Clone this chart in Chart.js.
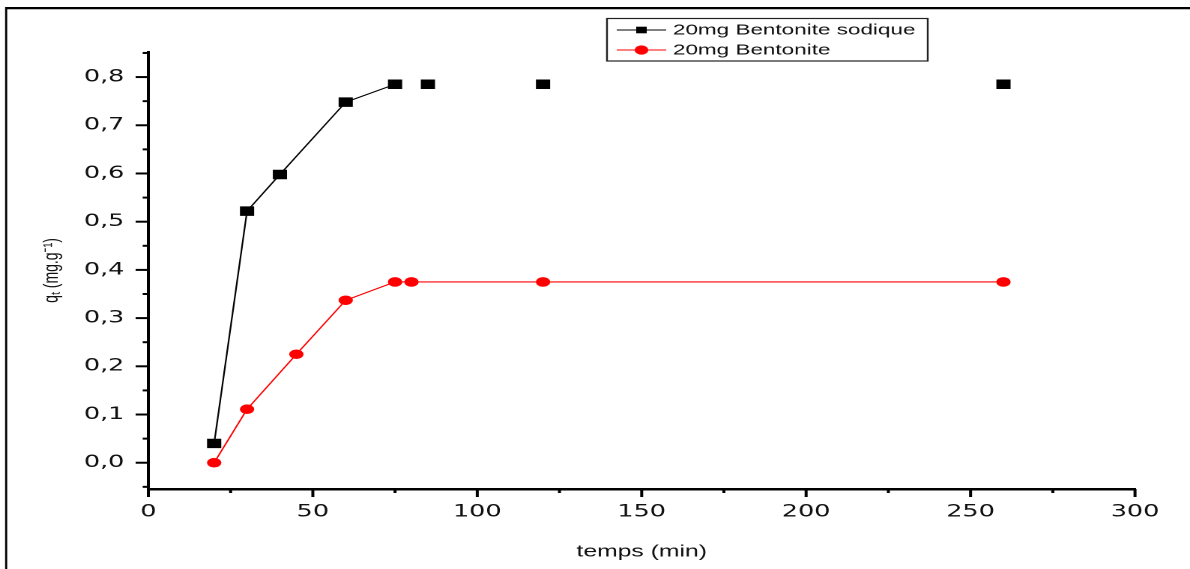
<!DOCTYPE html>
<html>
<head>
    <meta charset="utf-8">
    <script src="https://cdn.jsdelivr.net/npm/chart.js@4.4.1/dist/chart.umd.min.js"></script>
    <style>
        html, body {
            margin: 0;
            padding: 0;
            background: #fff;
        }
        #wrap {
            width: 1190px;
            height: 569px;
            overflow: hidden;
        }
        /* the original picture is stretched sideways, so the chart is too */
        #kinetics {
            transform: scaleX(1.49874);
            transform-origin: 0 0;
        }
    </style>
</head>
<body>
    <div id="wrap">
        <canvas id="kinetics" width="794" height="569"></canvas>
    </div>

    <script>
        // temps (min) and q_t (mg/g)
        const timeSodique = [20, 30, 40, 60, 75, 85, 120, 260];
        const qSodique = [0.04, 0.522, 0.598, 0.748, 0.785, 0.785, 0.785, 0.785];

        const timeBentonite = [20, 30, 45, 60, 75, 80, 120, 260];
        const qBentonite = [0.0, 0.111, 0.225, 0.337, 0.375, 0.375, 0.375, 0.375];

        const seriesLabels = ['20mg Bentonite sodique', '20mg Bentonite'];

        const xTickValues = [0, 50, 100, 150, 200, 250, 300];
        const yTickValues = [0, 0.1, 0.2, 0.3, 0.4, 0.5, 0.6, 0.7, 0.8];

        const tickFont = { family: 'DejaVu Sans', size: 17 };

        function toPoints(xs, ys) {
            return xs.map((x, i) => ({ x: x, y: ys[i] }));
        }

        // minor + major tick marks, drawn outside the axes like Origin does
        const tickMarks = {
            id: 'tickMarks',
            afterDraw(chart) {
                const c = chart.ctx;
                const xs = chart.scales.x, ys = chart.scales.y;
                const area = chart.chartArea;
                c.save();
                c.strokeStyle = '#000';

                c.lineWidth = 2;
                xTickValues.forEach((v, i) => {
                    const px = xs.getPixelForValue(v);
                    c.beginPath();
                    c.moveTo(px, area.bottom);
                    c.lineTo(px, area.bottom + 8);
                    c.stroke();
                    if (i < xTickValues.length - 1) {
                        const mx = xs.getPixelForValue((v + xTickValues[i + 1]) / 2);
                        c.beginPath();
                        c.moveTo(mx, area.bottom);
                        c.lineTo(mx, area.bottom + 4);
                        c.stroke();
                    }
                });

                c.lineWidth = 2;
                yTickValues.forEach((v, i) => {
                    const py = ys.getPixelForValue(v);
                    c.beginPath();
                    c.moveTo(area.left, py);
                    c.lineTo(area.left - 8.5, py);
                    c.stroke();
                    const below = ys.getPixelForValue(v - 0.05);
                    c.beginPath();
                    c.moveTo(area.left, below);
                    c.lineTo(area.left - 3.8, below);
                    c.stroke();
                });
                const top = ys.getPixelForValue(0.85);
                c.beginPath();
                c.moveTo(area.left, top);
                c.lineTo(area.left - 3.8, top);
                c.stroke();

                // picture frame (top and left edge)
                c.fillStyle = '#000';
                c.fillRect(4, 7, 800, 2);
                c.fillStyle = '#bbb';
                c.fillRect(4, 9, 800, 1);
                c.fillStyle = '#000';
                c.fillRect(3.4, 7, 1.4, 570);
                c.restore();
            }
        };

        // boxed legend in the top middle
        const boxLegend = {
            id: 'boxLegend',
            afterDraw(chart) {
                const c = chart.ctx;
                c.save();
                c.strokeStyle = '#222';
                c.lineWidth = 1.2;
                c.strokeRect(405, 18.5, 214, 42.5);

                const rows = [30, 50];
                chart.data.datasets.forEach((ds, i) => {
                    const y = rows[i];
                    c.strokeStyle = ds.borderColor;
                    c.lineWidth = 1;
                    c.beginPath();
                    c.moveTo(411.5, y);
                    c.lineTo(444.5, y);
                    c.stroke();
                    c.fillStyle = ds.borderColor;
                    if (i === 0) {
                        c.fillRect(424.5, y - 3.3, 7, 6.6);
                    } else {
                        c.beginPath();
                        c.arc(428, y, 4.6, 0, Math.PI * 2);
                        c.fill();
                    }
                    c.fillStyle = '#111';
                    c.font = '15px "Liberation Sans", Arial, sans-serif';
                    c.textBaseline = 'middle';
                    c.fillText(ds.label, 449, y + 0.5);
                });
                c.restore();
            }
        };

        const ctx = document.getElementById('kinetics').getContext('2d');

        new Chart(ctx, {
            type: 'line',
            data: {
                datasets: [
                    {
                        label: seriesLabels[0],
                        data: toPoints(timeSodique, qSodique),
                        borderColor: '#000000',
                        backgroundColor: '#000000',
                        borderWidth: 1.1,
                        pointStyle: 'rect',
                        pointRadius: 6,
                        pointBorderWidth: 1,
                        pointHoverRadius: 6,
                        // Origin plot joins only the rising part of this series
                        segment: {
                            borderColor: s => s.p0DataIndex >= 4 ? 'rgba(0,0,0,0)' : '#000000'
                        }
                    },
                    {
                        label: seriesLabels[1],
                        data: toPoints(timeBentonite, qBentonite),
                        borderColor: '#ff0000',
                        backgroundColor: '#ff0000',
                        borderWidth: 1.1,
                        pointStyle: 'circle',
                        pointRadius: 4.3,
                        pointBorderWidth: 1,
                        pointHoverRadius: 4.3
                    }
                ]
            },
            options: {
                responsive: false,
                animation: false,
                devicePixelRatio: 2,
                layout: {
                    padding: { left: 0, right: 36.7, top: 52, bottom: 0 }
                },
                plugins: {
                    legend: { display: false },
                    tooltip: { enabled: false }
                },
                scales: {
                    x: {
                        type: 'linear',
                        min: 0,
                        max: 300,
                        afterFit: s => { s.height = 80; },
                        afterBuildTicks: s => { s.ticks = xTickValues.map(v => ({ value: v })); },
                        grid: { display: false, drawTicks: false },
                        border: { display: true, color: '#000', width: 2.5 },
                        ticks: {
                            color: '#111',
                            font: tickFont,
                            padding: 13,
                            maxRotation: 0,
                            autoSkip: false
                        },
                        title: {
                            display: true,
                            text: 'temps (min)',
                            color: '#111',
                            font: { family: 'Liberation Sans', size: 16.5 },
                            padding: { top: 0, bottom: 7 }
                        }
                    },
                    y: {
                        type: 'linear',
                        min: -0.0545,
                        max: 0.852,
                        afterFit: s => { s.width = 99; },
                        afterBuildTicks: s => { s.ticks = yTickValues.map(v => ({ value: v })); },
                        grid: { display: false, drawTicks: false },
                        border: { display: true, color: '#000', width: 2 },
                        ticks: {
                            color: '#111',
                            font: tickFont,
                            padding: 16,
                            autoSkip: false,
                            callback: v => v.toFixed(1).replace('.', ',')
                        },
                        title: {
                            display: true,
                            text: 'qₜ (mg.g⁻¹)',
                            color: '#111',
                            font: { family: 'Liberation Sans', size: 14 },
                            padding: { top: 26, bottom: 0 }
                        }
                    }
                }
            },
            plugins: [tickMarks, boxLegend]
        });
    </script>
</body>
</html>
